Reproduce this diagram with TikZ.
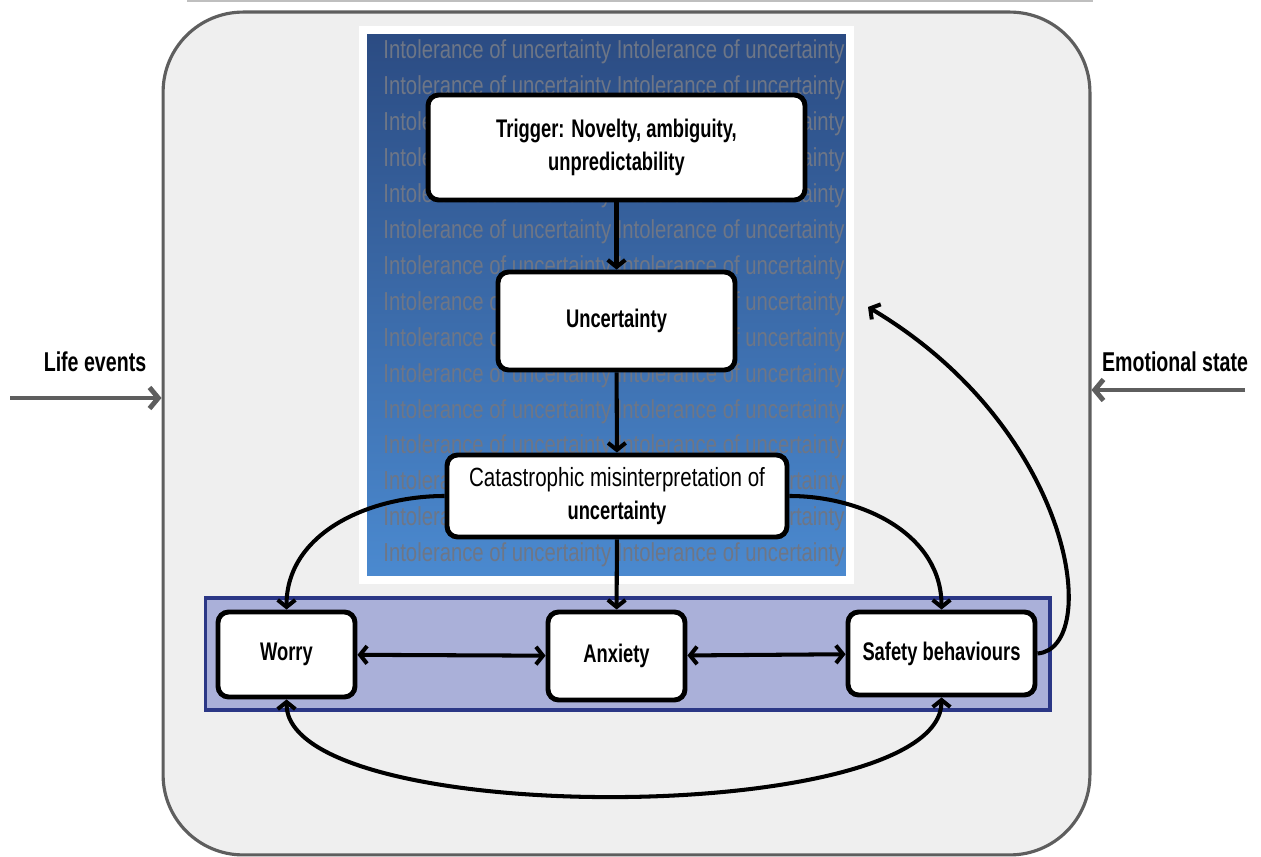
\documentclass[tikz,border=0pt]{standalone}
\usepackage{fontspec}
\setmainfont{Liberation Sans}[FakeStretch=0.72]
\newfontfamily\bgfont{Liberation Sans}[FakeStretch=0.78]
\usetikzlibrary{arrows.meta}
\definecolor{framegray}{HTML}{5E5E5E}
\definecolor{framefill}{HTML}{EFEFEF}
\definecolor{paneltop}{HTML}{2B4B82}
\definecolor{panelbottom}{HTML}{4B8AD0}
\definecolor{bgray}{HTML}{6E7686}
\definecolor{bandfill}{HTML}{AAB0D9}
\definecolor{banddraw}{HTML}{2B3786}
\begin{document}
\begin{tikzpicture}[
    x=0.02cm, y=-0.02cm,
    >={Straight Barb[length=4pt,width=10pt]},
    box/.style={draw=black, line width=2.8pt, fill=white, rounded corners=6pt, align=center, inner sep=2pt, font=\bfseries\fontsize{14.5}{19}\selectfont},
    link/.style={line width=2.3pt},
    outside/.style={line width=2.8pt, draw=framegray, -{Straight Barb[length=5pt,width=12pt]}},
    label/.style={font=\bfseries\fontsize{15.5}{18}\selectfont, inner sep=0pt},
    bgtext/.style={text=bgray, font=\bgfont\fontsize{14.8}{17}\selectfont, inner sep=0pt}
]
\useasboundingbox (0,0) rectangle (1261,857);
\draw[gray!50, line width=0.6pt] (187,1) -- (1093,1);
% outer frame
\node[draw=framegray, fill=framefill, line width=1.8pt, rounded corners=1.6cm,
      minimum width=18.54cm, minimum height=16.86cm] (frame) at (626.5,433.5) {};
% blue panel with repeated background text
\node[draw=white, line width=5pt, top color=paneltop, bottom color=panelbottom,
      minimum width=9.74cm, minimum height=11cm] (panel) at (606.5,305) {};
\foreach \i in {0,...,14}
    \node[bgtext] (bg\i) at (614,{52+\i*35.93}) {Intolerance of uncertainty Intolerance of uncertainty};
% purple band
\node[draw=banddraw, fill=bandfill, line width=1.8pt,
      minimum width=16.9cm, minimum height=2.24cm] (band) at (627.5,654) {};
% boxes
\node[box, minimum width=7.54cm, minimum height=2.1cm] (trigger) at (616.5,147.5) {Trigger: Novelty, ambiguity,\\unpredictability};
\node[box, minimum width=4.74cm, minimum height=1.96cm] (uncert) at (616.5,321) {Uncertainty};
\node[box, minimum width=6.8cm, minimum height=1.64cm, font=\bgfont\fontsize{15}{19}\selectfont] (catas) at (617,496) {Catastrophic misinterpretation of\\{\fontspec{Liberation Sans}[FakeStretch=0.72]\bfseries\fontsize{14.5}{19}\selectfont uncertainty}};
\node[box, minimum width=2.74cm, minimum height=1.7cm] (worry) at (286.5,654.5) {Worry};
\node[box, minimum width=2.74cm, minimum height=1.76cm] (anxiety) at (616.5,656) {Anxiety};
\node[box, minimum width=3.74cm, minimum height=1.66cm] (safety) at (941.5,653.5) {Safety behaviours};
% outside influences
\node[label] (life) at (95,362) {Life events};
\node[label] (emotion) at (1175,362) {Emotional state};
\coordinate (lifeStart) at (10,398);
\coordinate (emotionStart) at (1245,390);
\draw[outside] (lifeStart) -- (lifeStart -| frame.west);
\draw[outside] (emotionStart) -- (emotionStart -| frame.east);
% connectors
\draw[link,->] (trigger) -- (uncert);
\draw[link,->] (uncert) -- (catas);
\draw[link,->] (catas) -- (anxiety);
\draw[link,->] (catas.west) to[out=180,in=90] (worry.north);
\draw[link,->] (catas.east) to[out=0,in=90] (safety.north);
\draw[link,<->] (worry) -- (anxiety);
\draw[link,<->] (anxiety) -- (safety);
\draw[link,<->] (worry.south) .. controls +(0,130) and +(0,130) .. (safety.south);
\coordinate (loopEnd) at (868,307);
\draw[link,->] (safety.east) .. controls +(65,-5) and (1075,430) .. (loopEnd);
\end{tikzpicture}
\end{document}
